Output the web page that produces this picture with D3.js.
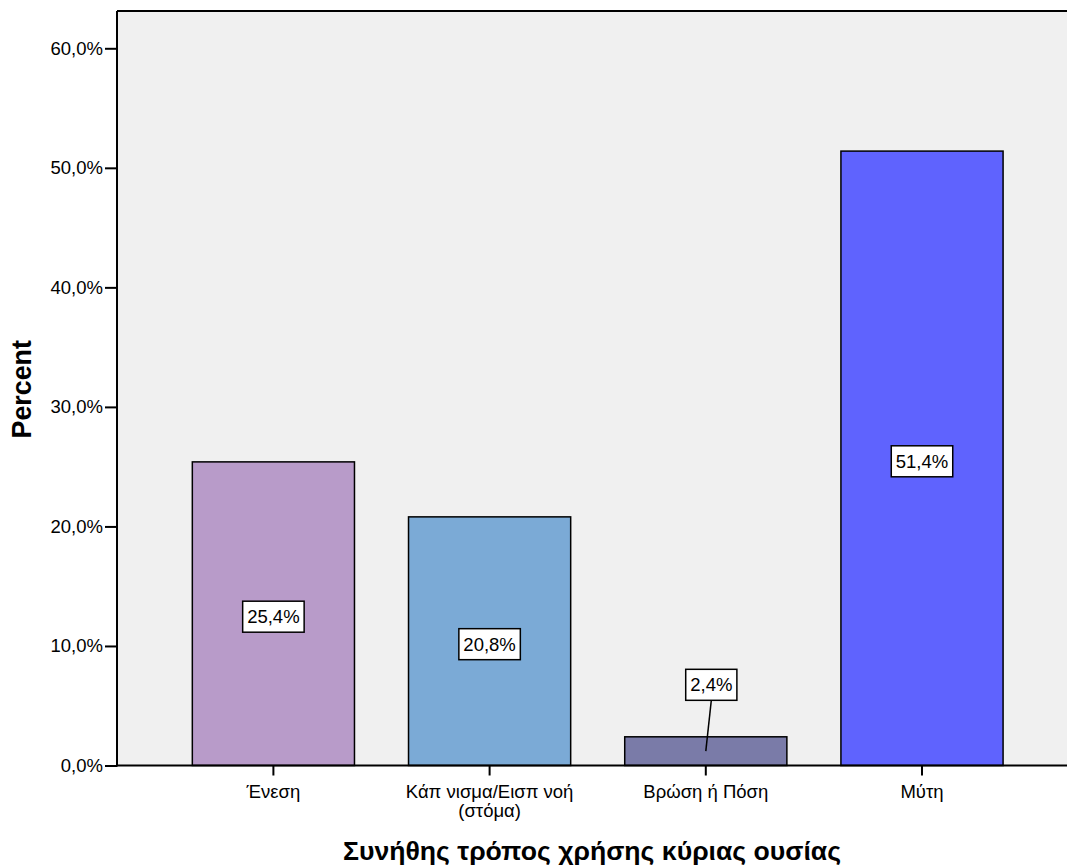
<!DOCTYPE html>
<html>
<head>
<meta charset="utf-8">
<script src="https://d3js.org/d3.v7.min.js"></script>
<style>
  html, body { margin: 0; padding: 0; background: #ffffff; }
  svg { display: block; }
  text { font-family: "Liberation Sans", Arial, sans-serif; }
</style>
</head>
<body>
<script>
// ---- data ----
const categories = ["Ένεση", "Κάπ νισμα/Εισπ νοή\n(στόμα)", "Βρώση ή Πόση", "Μύτη"];
const percents = [25.4, 20.8, 2.4, 51.4];
const valueLabels = ["25,4%", "20,8%", "2,4%", "51,4%"];
const barColors = ["#B89BC9", "#7BAAD6", "#7A7BA8", "#5F63FE"];
const yTicks = [0, 10, 20, 30, 40, 50, 60];
const yTickLabels = ["0,0%", "10,0%", "20,0%", "30,0%", "40,0%", "50,0%", "60,0%"];
const yTitle = "Percent";
const xTitle = "Συνήθης τρόπος χρήσης κύριας ουσίας";

// ---- layout ----
const W = 1067, H = 865;
const plotLeft = 117, plotTop = 11, plotBottom = 765.5, plotRight = 1070;

const svg = d3.select("body").append("svg")
  .attr("width", W).attr("height", H);

const x = d3.scaleBand()
  .domain(d3.range(categories.length))
  .range([165.3, 1030.1])
  .paddingInner(0.25)
  .paddingOuter(0.125);

const y = d3.scaleLinear()
  .domain([0, 63.12])
  .range([plotBottom, plotTop]);

// plot background
svg.append("rect")
  .attr("x", plotLeft).attr("y", plotTop)
  .attr("width", plotRight - plotLeft).attr("height", plotBottom - plotTop)
  .attr("fill", "#F0F0F0");

// top border
svg.append("line")
  .attr("x1", plotLeft).attr("x2", plotRight)
  .attr("y1", plotTop).attr("y2", plotTop)
  .attr("stroke", "#000").attr("stroke-width", 2);

// bars
svg.selectAll("rect.bar")
  .data(percents)
  .enter().append("rect")
  .attr("class", "bar")
  .attr("x", (d, i) => x(i))
  .attr("y", d => y(d))
  .attr("width", x.bandwidth())
  .attr("height", d => y(0) - y(d))
  .attr("fill", (d, i) => barColors[i])
  .attr("stroke", "#000")
  .attr("stroke-width", 1.5);

// y axis
const yAxis = d3.axisLeft(y)
  .tickValues(yTicks)
  .tickFormat((d, i) => yTickLabels[i])
  .tickSize(12)
  .tickPadding(2)
  .tickSizeOuter(0);
const gy = svg.append("g")
  .attr("transform", `translate(${plotLeft},0)`)
  .call(yAxis);
gy.select(".domain").attr("stroke", "#000").attr("stroke-width", 2)
  .attr("d", `M0,${plotTop}V${plotBottom + 1}`);
gy.selectAll(".tick line").attr("stroke", "#000").attr("stroke-width", 2);
gy.selectAll(".tick text")
  .attr("fill", "#000")
  .style("font-size", "18.5px")
  .style("font-family", "'Liberation Sans', Arial, sans-serif");

// x axis
const xAxis = d3.axisBottom(x)
  .tickFormat(i => categories[i])
  .tickSize(10)
  .tickSizeOuter(0);
const gx = svg.append("g")
  .attr("transform", `translate(0,${plotBottom})`)
  .call(xAxis);
gx.selectAll(".tick").attr("transform", i => `translate(${x(i) + x.bandwidth() / 2},0)`);
gx.select(".domain").attr("stroke", "#000").attr("stroke-width", 2)
  .attr("d", `M${plotLeft - 1},0H${plotRight}`);
gx.selectAll(".tick line").attr("stroke", "#000").attr("stroke-width", 2);
gx.selectAll(".tick text").each(function (i) {
  const t = d3.select(this);
  const lines = categories[i].split("\n");
  t.text(null)
    .attr("y", null).attr("dy", null)
    .attr("fill", "#000")
    .style("font-size", "18.5px")
    .style("font-family", "'Liberation Sans', Arial, sans-serif");
  lines.forEach((ln, k) => {
    t.append("tspan").attr("x", 0).attr("y", 32.5 + k * 19).text(ln);
  });
});

// value labels
const labelG = svg.append("g");
percents.forEach((v, i) => {
  const cx = x(i) + x.bandwidth() / 2;
  const small = v < 5;
  const anchorY = y(v / 2);
  const ly = small ? y(v) - 52 : anchorY + 3;
  const lx = small ? cx + 5.5 : cx;
  const g = labelG.append("g");
  if (small) {
    g.append("line")
      .attr("x1", cx).attr("y1", anchorY)
      .attr("x2", lx).attr("y2", ly + 15.5)
      .attr("stroke", "#000").attr("stroke-width", 1.5);
  }
  const txt = g.append("text")
    .attr("x", lx).attr("y", ly)
    .attr("dy", "0.36em")
    .attr("text-anchor", "middle")
    .style("font-size", "18.5px")
    .attr("fill", "#000")
    .text(valueLabels[i]);
  const bb = txt.node().getBBox();
  g.insert("rect", "text")
    .attr("x", lx - (bb.width + 9) / 2)
    .attr("y", ly - 15.5)
    .attr("width", bb.width + 9)
    .attr("height", 31)
    .attr("fill", "#fff")
    .attr("stroke", "#000")
    .attr("stroke-width", 1.5);
});

// axis titles
svg.append("text")
  .attr("transform", `translate(31,${(plotTop + plotBottom) / 2 + 1}) rotate(-90)`)
  .attr("text-anchor", "middle")
  .style("font-size", "26.8px")
  .style("font-weight", "bold")
  .attr("fill", "#000")
  .text(yTitle);

svg.append("text")
  .attr("x", (plotLeft + W) / 2)
  .attr("y", 860)
  .attr("text-anchor", "middle")
  .style("font-size", "26.6px")
  .style("font-weight", "bold")
  .attr("fill", "#000")
  .text(xTitle);
</script>
</body>
</html>
